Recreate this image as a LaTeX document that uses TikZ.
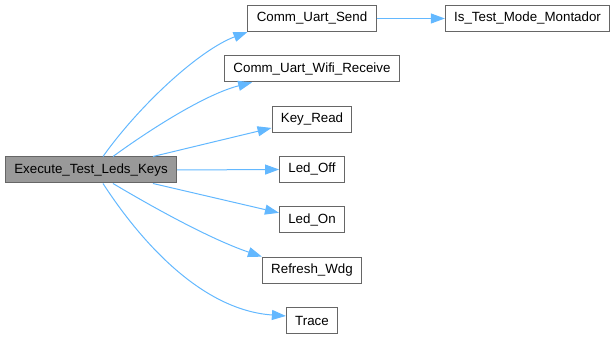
\documentclass[tikz,border=0pt]{standalone}
\usepackage{fontspec}
\setmainfont{Liberation Sans}
\usetikzlibrary{arrows.meta}

\definecolor{edgeblue}{HTML}{63B8FF}
\definecolor{boxgray}{HTML}{666666}
\definecolor{rootgray}{HTML}{999999}

\begin{document}
\begin{tikzpicture}[
    x=0.75pt, y=-0.75pt,
    >={Triangle[length=10.5pt, width=7.5pt]},
    node distance=37.75pt,
    every node/.style={draw=boxgray, line width=0.75pt, rectangle, fill=white, minimum height=19.5pt, inner xsep=6.6pt, font=\fontsize{10}{12}\selectfont},
    arrow/.style={->, line width=0.75pt, draw=edgeblue}
]
  \useasboundingbox (0,0) rectangle (615,341);

  % caller
  \node[fill=rootgray] (exe) at (91,170) {Execute\_Test\_Leds\_Keys};

  % callees, one column
  \node (send) at (312,18.5) {Comm\_Uart\_Send};
  \node[below of=send] (wifi) {Comm\_Uart\_Wifi\_Receive};
  \node[below of=wifi] (key) {Key\_Read};
  \node[below of=key] (off) {Led\_Off};
  \node[below of=off] (on) {Led\_On};
  \node[below of=on] (wdg) {Refresh\_Wdg};
  \node[below of=wdg] (trace) {Trace};
  \node[right of=send, xshift=123.9pt] (mode) {Is\_Test\_Mode\_Montador};

  \draw[arrow] ([xshift=9pt]exe.north) .. controls +(37,-52) and +(-48,18) .. (send.south west);
  \draw[arrow] ([xshift=16.5pt]exe.north) .. controls +(37,-27) and +(-47,12) .. ([xshift=21pt]wifi.south west);
  \draw[arrow] ([xshift=46.5pt]exe.north) -- ([yshift=-6.6pt]key.west);
  \draw[arrow] (exe.east) -- (off.west);
  \draw[arrow] ([xshift=46.5pt]exe.south) -- ([yshift=5.25pt]on.west);
  \draw[arrow] ([xshift=16.5pt]exe.south) .. controls +(37,22) and +(-53,-18) .. (wdg.north west);
  \draw[arrow] ([xshift=9pt]exe.south) .. controls +(37,57) and +(-85,-6) .. ([yshift=3.4pt]trace.west);
  \draw[arrow] (send) -- (mode);
\end{tikzpicture}
\end{document}
